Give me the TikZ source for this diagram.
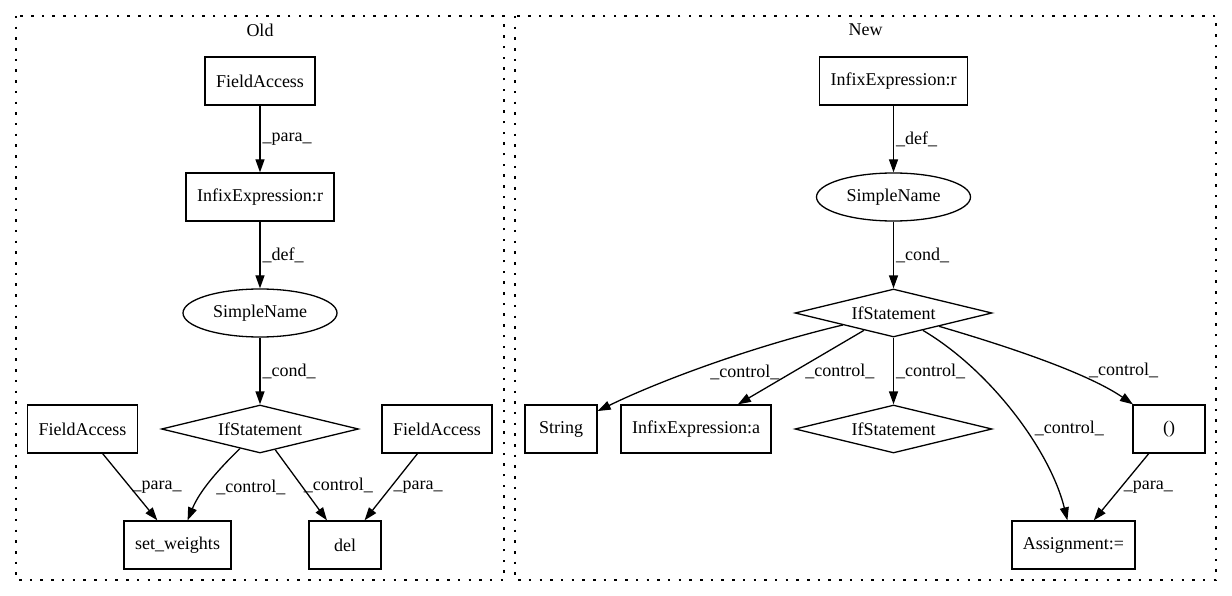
\documentclass[tikz,border=0pt]{standalone}
\usepackage{fontspec}
\setmainfont{Liberation Serif}
\usetikzlibrary{math,shapes.geometric,arrows.meta}

\begin{document}
\begin{tikzpicture}[x=1pt, y=-1pt, line width=1.3pt,
            every node/.style={font=\fontsize{18}{21}\selectfont},
            box/.style={draw, rectangle, minimum width=72pt, minimum height=48pt, inner xsep=11pt},
            oval/.style={draw, ellipse, minimum width=154pt, minimum height=48pt, inner sep=0pt},
            cond/.style={draw, diamond, aspect=4, minimum width=197pt, minimum height=48pt, inner sep=0pt},
            flow/.style={-{Triangle[length=13pt, width=9pt]}},
            lbl/.style={right, inner sep=2pt},
            cluster/.style={dash pattern=on 2.5pt off 8.2pt}]
            \tikzmath{\oX = 260; \nX = 893.5; \rA = 81; \dY = 116;}
            \useasboundingbox (0,0) rectangle (1232,596);

            \draw[cluster] (16,16) rectangle (504,580);
            \node (old) at (\oX, 30) {Old};
            \draw[cluster] (515,16) rectangle (1216,580);
            \node (new) at (865.5, 30) {New};

            \node[box] (fa1) at (\oX, \rA) {FieldAccess};
            \node[box] (ir1) at (\oX, \rA + \dY) {InfixExpression:r};
            \node[oval] (sn1) at (\oX, \rA + 2*\dY) {SimpleName};
            \node[cond] (if1) at (\oX, \rA + 3*\dY) {IfStatement};
            \node[box] (fa2) at (82.5, \rA + 3*\dY) {FieldAccess};
            \node[box] (fa3) at (437, \rA + 3*\dY) {FieldAccess};
            \node[box] (sw) at (177.5, \rA + 4*\dY) {set\_weights};
            \node[box] (del) at (345, \rA + 4*\dY) {del};

            \draw[flow] (fa1) -- node[lbl]{\_para\_} (ir1);
            \draw[flow] (ir1) -- node[lbl]{\_def\_} (sn1);
            \draw[flow] (sn1) -- node[lbl]{\_cond\_} (if1);
            \draw[flow] (fa2) -- node[lbl]{\_para\_} (sw);
            \draw[flow] (if1) .. controls (220,468) and (200,490) .. node[lbl, pos=0.6, xshift=8pt]{\_control\_} (sw);
            \draw[flow] (if1) -- node[lbl]{\_control\_} (del);
            \draw[flow] (fa3) -- node[lbl]{\_para\_} (del);

            \node[box] (ir2) at (\nX, \rA) {InfixExpression:r};
            \node[oval] (sn2) at (\nX, \rA + \dY) {SimpleName};
            \node[cond] (if2) at (\nX, \rA + 2*\dY) {IfStatement};
            \node[box] (str) at (561, \rA + 3*\dY) {String};
            \node[box] (ia) at (696, \rA + 3*\dY) {InfixExpression:a};
            \node[cond] (if3) at (\nX, \rA + 3*\dY) {IfStatement};
            \node[box] (par) at (1169, \rA + 3*\dY) {()};
            \node[box] (asg) at (1073.5, \rA + 4*\dY) {Assignment:=};

            \draw[flow] (ir2) -- node[lbl]{\_def\_} (sn2);
            \draw[flow] (sn2) -- node[lbl]{\_cond\_} (if2);
            \draw[flow] (if2) .. controls (750,347) and (657,382) .. node[lbl, pos=0.5, yshift=-7pt]{\_control\_} (str);
            \draw[flow] (if2) -- node[lbl, pos=0.55, xshift=8pt]{\_control\_} (ia);
            \draw[flow] (if2) -- node[lbl]{\_control\_} (if3);
            \draw[flow] (if2) .. controls (990,370) and (1050,450) .. node[lbl, pos=0.57, xshift=8pt]{\_control\_} (asg);
            \draw[flow] (if2) .. controls (1020,350) and (1090,375) .. node[pos=0.7, anchor=south west, inner sep=1pt]{\_control\_} (par);
            \draw[flow] (par) -- node[lbl]{\_para\_} (asg);
        \end{tikzpicture}
\end{document}
